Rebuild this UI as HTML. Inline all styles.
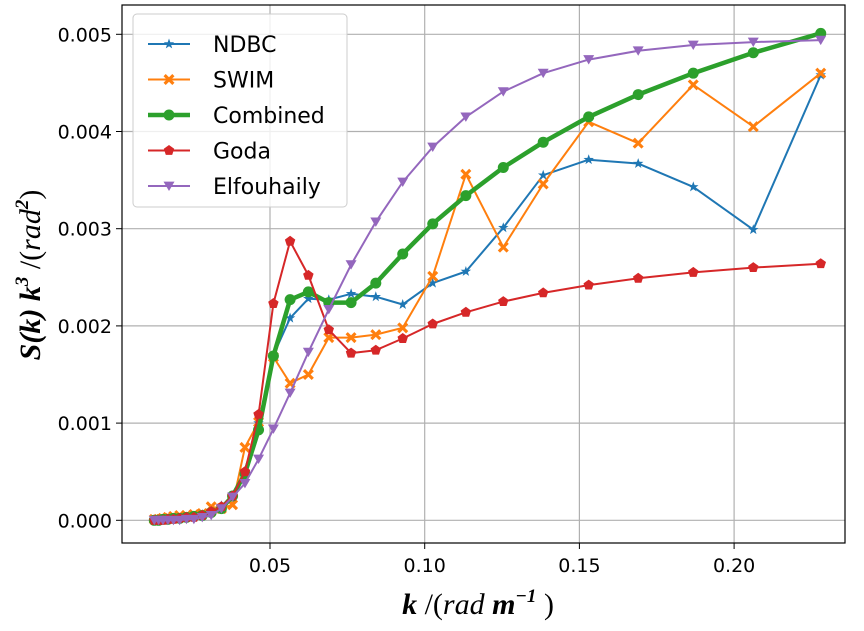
<!DOCTYPE html>
<html><head><meta charset="utf-8"><style>
body{margin:0;background:#fff;}
svg{display:block;font-family:"DejaVu Sans","Liberation Sans",sans-serif;}
</style></head><body>
<svg id="chart" width="864" height="631" viewBox="0 0 864 631" xmlns="http://www.w3.org/2000/svg">
<g id="grid"></g>
<g id="series"></g>
<rect x="122" y="5" width="723" height="538" fill="none" stroke="#000" stroke-width="1.2"/>
<g id="ticks"></g>
<text x="478" y="614" text-anchor="middle" font-family="Liberation Serif,serif" font-size="30" font-style="italic" font-weight="bold">k <tspan font-weight="normal" font-style="normal">/(</tspan><tspan font-weight="normal">rad</tspan> m<tspan font-size="19" dy="-12">−1</tspan><tspan dy="12" font-weight="normal" font-style="normal"> )</tspan></text>
<text transform="translate(40,275) rotate(-90)" text-anchor="middle" font-family="Liberation Serif,serif" font-size="30" font-style="italic" font-weight="bold">S(k) k<tspan font-size="19" dy="-12">3</tspan><tspan dy="12" font-weight="normal" font-style="normal"> /(</tspan><tspan font-weight="normal">rad</tspan><tspan font-size="19" dy="-12">2</tspan><tspan dy="12" font-weight="normal" font-style="normal">)</tspan></text>
<g id="legend"></g>
</svg>
<script>
const kValues=[0.0126,0.0140,0.0154,0.0170,0.0188,0.0208,0.0230,0.0254,0.0281,0.0310,0.0343,0.0379,0.0419,0.0463,0.0511,0.0565,0.0624,0.0690,0.0762,0.0842,0.0929,0.1026,0.1133,0.1254,0.1383,0.1530,0.1690,0.1868,0.2062,0.2280];
const ndbc=[0,0,0.00001,0.00001,0.00002,0.00002,0.00003,0.00004,0.00006,0.00010,0.00015,0.00025,0.0005,0.0010,0.0017,0.00208,0.00228,0.00227,0.00233,0.00230,0.00222,0.00244,0.00256,0.00301,0.00355,0.00371,0.00367,0.00343,0.00299,0.00458];
const swim=[0.00001,0.00001,0.00002,0.00003,0.00004,0.00005,0.00005,0.00006,0.00007,0.00014,0.00012,0.00016,0.00075,0.00101,0.00168,0.00141,0.0015,0.00188,0.00188,0.00191,0.00198,0.00251,0.00356,0.00281,0.00346,0.00410,0.00388,0.00448,0.00405,0.00460];
const combined=[0,0,0.00001,0.00001,0.00002,0.00002,0.00003,0.00004,0.00005,0.00008,0.00012,0.00025,0.00048,0.00093,0.00169,0.00227,0.00235,0.00224,0.00224,0.00244,0.00274,0.00305,0.00334,0.00363,0.00389,0.00415,0.00438,0.00460,0.00481,0.00501];
const goda=[0,0,0,0.00001,0.00001,0.00002,0.00003,0.00003,0.00005,0.00009,0.00014,0.00025,0.0005,0.00109,0.00223,0.00287,0.00252,0.00196,0.00172,0.00175,0.00187,0.00202,0.00214,0.00225,0.00234,0.00242,0.00249,0.00255,0.00260,0.00264];
const elf=[0,0,0,0,0,0,0.00001,0.00001,0.00003,0.00005,0.00012,0.00024,0.00038,0.00063,0.00094,0.00131,0.00173,0.00217,0.00263,0.00307,0.00348,0.00384,0.00415,0.00441,0.00460,0.00474,0.00483,0.00489,0.00492,0.00494];
const xTicks=[0.05,0.10,0.15,0.20];
const xTickLabels=["0.05","0.10","0.15","0.20"];
const yTicks=[0,0.001,0.002,0.003,0.004,0.005];
const yTickLabels=["0.000","0.001","0.002","0.003","0.004","0.005"];
const seriesNames=["NDBC","SWIM","Combined","Goda","Elfouhaily"];

const NS="http://www.w3.org/2000/svg";
function X(k){return 270+(k-0.05)*3094;}
function Y(v){return 520.3-v*97200;}
function mk(tag,attrs,parent){const e=document.createElementNS(NS,tag);for(const a in attrs)e.setAttribute(a,attrs[a]);parent.appendChild(e);return e;}
const grid=document.getElementById('grid'),ticks=document.getElementById('ticks'),ser=document.getElementById('series'),leg=document.getElementById('legend');
xTicks.forEach((t,i)=>{
  const g=mk('line',{x1:X(t),x2:X(t),y1:5,y2:543,stroke:'#b0b0b0','stroke-width':1.2},grid);
  
  const tk=mk('line',{x1:X(t),x2:X(t),y1:543,y2:549,stroke:'#000'},ticks);
  
  const tx=mk('text',{x:X(t),y:572,'text-anchor':'middle','font-size':19},ticks);tx.textContent=xTickLabels[i];
  
});
yTicks.forEach((t,i)=>{
  const g=mk('line',{x1:122,x2:845,y1:Y(t),y2:Y(t),stroke:'#b0b0b0','stroke-width':1.2},grid);
  
  const tk=mk('line',{x1:116,x2:122,y1:Y(t),y2:Y(t),stroke:'#000'},ticks);
  
  const tx=mk('text',{x:112,y:Y(t)+7,'text-anchor':'end','font-size':19},ticks);tx.textContent=yTickLabels[i];
  
});
function marker(type,x,y,color,parent,s){
  let e;
  if(type==='star'){let p=[];for(let i=0;i<10;i++){const r=i%2?s*0.4:s;const a=-Math.PI/2+i*Math.PI/5;p.push((x+r*Math.cos(a)).toFixed(1)+','+(y+r*Math.sin(a)).toFixed(1));}e=mk('polygon',{points:p.join(' '),fill:color},parent);}
  else if(type==='x'){const d=s,w=s*0.4;e=mk('path',{d:`M${x-d} ${y-d+w}L${x-d+w} ${y-d}L${x} ${y-w}L${x+d-w} ${y-d}L${x+d} ${y-d+w}L${x+w} ${y}L${x+d} ${y+d-w}L${x+d-w} ${y+d}L${x} ${y+w}L${x-d+w} ${y+d}L${x-d} ${y+d-w}L${x-w} ${y}Z`,fill:color},parent);}
  else if(type==='circle'){e=mk('circle',{cx:x,cy:y,r:s,fill:color},parent);}
  else if(type==='pent'){let p=[];for(let i=0;i<5;i++){const a=-Math.PI/2+i*2*Math.PI/5;p.push((x+s*Math.cos(a)).toFixed(1)+','+(y+s*Math.sin(a)).toFixed(1));}e=mk('polygon',{points:p.join(' '),fill:color},parent);}
  else {e=mk('polygon',{points:`${x-s},${y-s*0.8} ${x+s},${y-s*0.8} ${x},${y+s*0.9}`,fill:color},parent);}
  return e;
}
const defs=[
 {name:seriesNames[0],data:ndbc,color:'#1f77b4',w:2,m:'star',s:5.5},
 {name:seriesNames[1],data:swim,color:'#ff7f0e',w:2,m:'x',s:5.5},
 {name:seriesNames[2],data:combined,color:'#2ca02c',w:4.5,m:'circle',s:5.5},
 {name:seriesNames[3],data:goda,color:'#d62728',w:2,m:'pent',s:5.5},
 {name:seriesNames[4],data:elf,color:'#9467bd',w:2,m:'tri',s:5.5}
];
defs.forEach((d,si)=>{
  const g=mk('g',{},ser);
  
  
  const pts=d.data.map((v,i)=>X(kValues[i]).toFixed(1)+','+Y(v).toFixed(1)).join(' ');
  const pl=mk('polyline',{points:pts,fill:'none',stroke:d.color,'stroke-width':d.w,'stroke-linejoin':'round'},g);
  
  
  d.data.forEach((v,i)=>{
    const m=marker(d.m,X(kValues[i]),Y(v),d.color,g,d.s);
    
    
  });
  const ly=44+si*35.5;
  const ll=mk('line',{x1:148,x2:190,y1:ly,y2:ly,stroke:d.color,'stroke-width':d.w},leg);
  
  const lm=marker(d.m,169,ly,d.color,leg,d.s);
  
  const lt=mk('text',{x:213,y:ly+8,'font-size':22},leg);lt.textContent=d.name;
  
});
const box=mk('rect',{x:133,y:14,width:214,height:193,rx:4,fill:'rgba(255,255,255,0.8)',stroke:'#ccc'},leg);
leg.insertBefore(box,leg.firstChild);


</script>
</body></html>
